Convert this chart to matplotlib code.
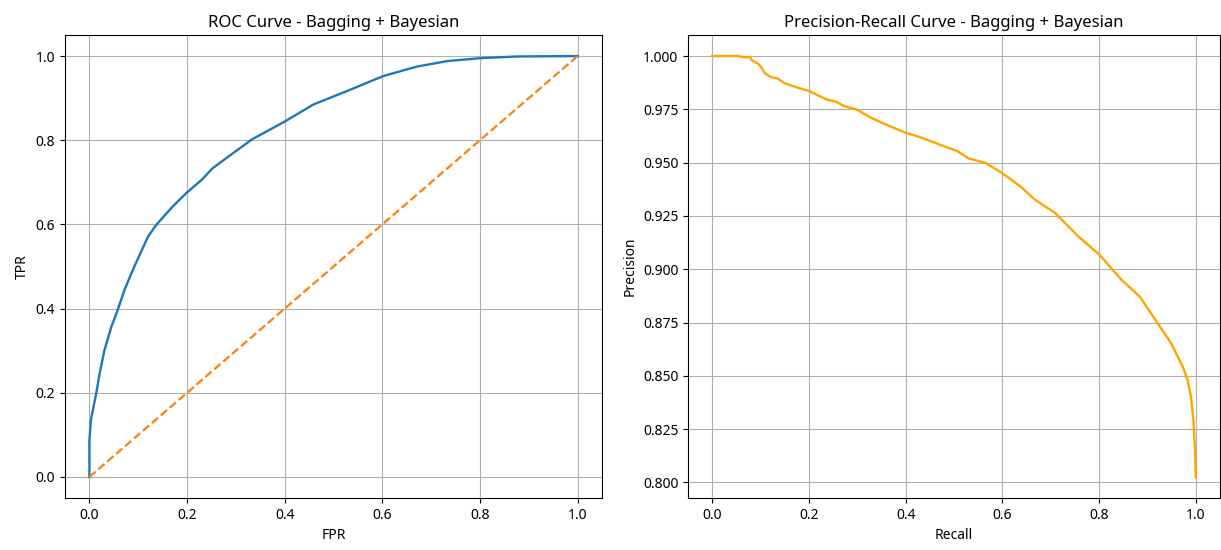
import numpy as np
import matplotlib
matplotlib.use("Agg")
import matplotlib.pyplot as plt

plt.rcParams['font.family'] = ['Noto Sans', 'DejaVu Sans']

# ROC curve points
fpr = [0.0, 0.0, 0.003, 0.014, 0.021, 0.031, 0.045, 0.058, 0.072, 0.092, 0.120,
       0.137, 0.171, 0.199, 0.230, 0.253, 0.288, 0.333, 0.401, 0.459, 0.528,
       0.601, 0.637, 0.671, 0.733, 0.800, 0.877, 1.0]
tpr = [0.0, 0.087, 0.135, 0.199, 0.246, 0.302, 0.357, 0.397, 0.445, 0.500, 0.571,
       0.599, 0.643, 0.675, 0.706, 0.734, 0.764, 0.802, 0.845, 0.885, 0.917,
       0.952, 0.964, 0.975, 0.988, 0.995, 0.999, 1.0]

# Precision-recall points
recall = [0.0, 0.054, 0.064, 0.078, 0.082, 0.095, 0.102, 0.109, 0.122, 0.136,
          0.150, 0.171, 0.200, 0.236, 0.256, 0.273, 0.298, 0.328, 0.359, 0.400,
          0.428, 0.455, 0.483, 0.507, 0.530, 0.565, 0.599, 0.637, 0.667, 0.709,
          0.757, 0.801, 0.846, 0.884, 0.921, 0.949, 0.973, 0.983, 0.990, 0.995,
          0.998, 1.0]
precision = [1.0, 1.0, 0.9995, 0.9995, 0.998, 0.9964, 0.9945, 0.9919, 0.9901, 0.9894,
             0.9872, 0.9856, 0.9836, 0.9797, 0.9786, 0.9765, 0.9750, 0.9711, 0.9679, 0.9640,
             0.9621, 0.9598, 0.9574, 0.9554, 0.9520, 0.9499, 0.9452, 0.9389, 0.9327, 0.9264,
             0.9154, 0.9068, 0.8951, 0.8872, 0.8747, 0.8653, 0.8543, 0.8481, 0.8402, 0.8293,
             0.8167, 0.8026]

fig = plt.figure(figsize=(12.21, 5.5), dpi=100)
ax1 = fig.add_axes([65 / 1221, 1 - 498 / 550, 537 / 1221, 463 / 550])
ax2 = fig.add_axes([688 / 1221, 1 - 498 / 550, 532 / 1221, 463 / 550])

ax1.plot(fpr, tpr, lw=1.7)
ax1.plot([0, 1], [0, 1], '--', lw=1.6)
ax1.set_title("ROC Curve - Bagging + Bayesian", fontsize=12)
ax1.set_xlabel("FPR")
ax1.set_ylabel("TPR")
ax1.grid(True)

ax2.plot(recall, precision, color='orange', lw=1.7)
ax2.set_title("Precision-Recall Curve - Bagging + Bayesian", fontsize=12)
ax2.set_xlabel("Recall")
ax2.set_ylabel("Precision")
ax2.grid(True)

fig.savefig("out.png", dpi=100)
